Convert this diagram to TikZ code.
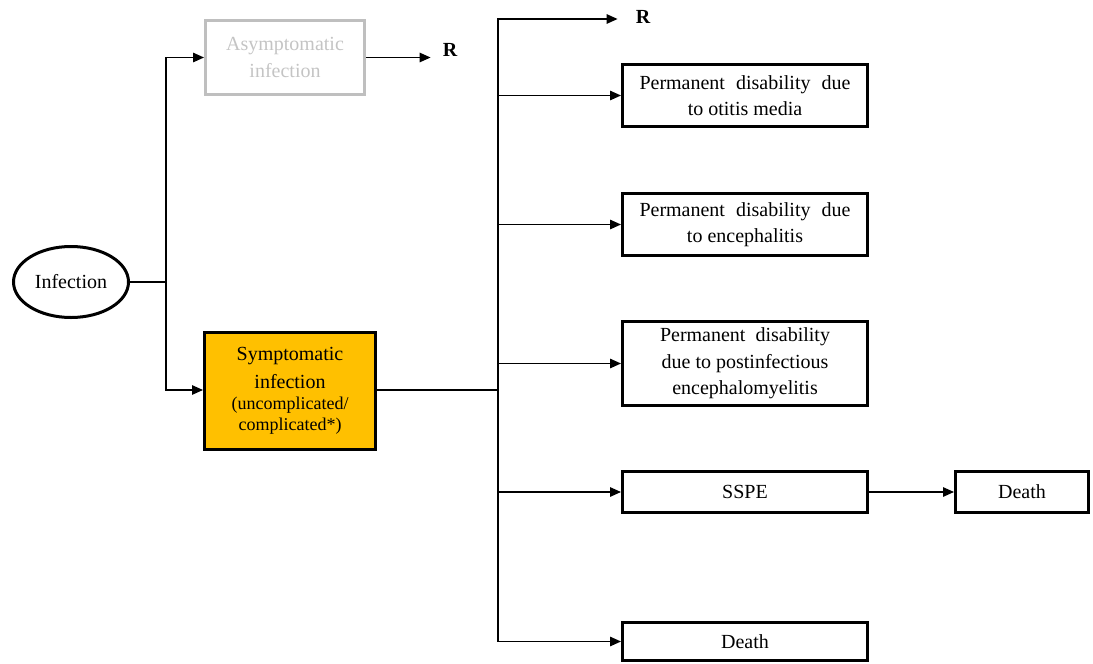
\documentclass[tikz,border=0pt]{standalone}
\usepackage{fontspec}
\setmainfont{Liberation Serif}
\usetikzlibrary{arrows.meta,shapes.geometric}
\definecolor{boxgold}{HTML}{FFC000}
\definecolor{paleline}{HTML}{BFBFBF}
\definecolor{paletext}{HTML}{C4C4C4}

\begin{document}
\begin{tikzpicture}[x=1pt,y=-1pt,
  txt/.style={font=\rmfamily\fontsize{20}{26.5}\selectfont},
  box/.style={txt, draw=black, line width=3pt, rectangle, inner sep=0pt, align=center},
  link/.style={line width=1.4pt},
  arr/.style={link, -{Triangle[length=11pt,width=9.5pt]}},
  rlabel/.style={font=\rmfamily\fontsize{20}{24}\selectfont\bfseries, inner sep=0pt}
]
\useasboundingbox (0,0) rectangle (1093,664);

% states
\node[txt, ellipse, draw=black, line width=3pt, minimum width=115pt, minimum height=71pt, inner sep=0pt]
  (inf) at (71,282) {Infection};
\node[box, draw=paleline, text=paletext, minimum width=159pt, minimum height=74pt]
  (asym) at (285,57.5) {Asymptomatic\\infection};
\node[box, fill=boxgold, minimum width=171pt, minimum height=117pt,
      font=\rmfamily\fontsize{20}{27.5}\selectfont]
  (sym) at (290,391) {Symptomatic\\infection\\[-6pt]\fontsize{18}{21}\selectfont(uncomplicated/\\[-7pt]\fontsize{18}{21}\selectfont complicated*)};
\node[rlabel] (r1) at (450,50) {R};
\node[rlabel] (r2) at (643,17) {R};

\node[box, minimum width=245pt, minimum height=62pt] (otitis) at (745,95.5)
  {\makebox[211pt][s]{Permanent disability due}\\to otitis media};
\node[box, minimum width=245pt, minimum height=62pt] (enceph) at (745,224.5)
  {\makebox[211pt][s]{Permanent disability due}\\to encephalitis};
\node[box, minimum width=245pt, minimum height=84pt] (pie) at (745,363.5)
  {\makebox[170pt][s]{Permanent disability}\\due to postinfectious\\encephalomyelitis};
\node[box, minimum width=245pt, minimum height=41pt] (sspe) at (745,492) {SSPE};
\node[box, minimum width=133pt, minimum height=41pt] (death2) at (1022,492) {Death};
\node[box, minimum width=245pt, minimum height=38pt] (death1) at (745,641.5) {Death};

% branching points
\coordinate (j1) at (166,282);
\coordinate (j2) at (498,390);

% connectors
\draw[link] (inf.east) -- (j1);
\draw[arr] (j1) |- (asym.west);
\draw[arr] (j1) |- (j1 |- j2) -- (sym.west |- j2);
\draw[arr] (asym.east) -- ([xshift=-12pt]r1.west |- asym.east);

\draw[link] (sym.east |- j2) -- (j2);
\draw[arr] (j2) |- ([xshift=-18pt,yshift=-2pt]r2.west);
\draw[arr] (j2) |- (otitis.west);
\draw[arr] (j2) |- (enceph.west);
\draw[arr] (j2) |- (pie.west);
\draw[arr] (j2) |- (sspe.west);
\draw[arr] (j2) |- (death1.west);
\draw[arr] (sspe.east) -- (death2.west);
\end{tikzpicture}
\end{document}
